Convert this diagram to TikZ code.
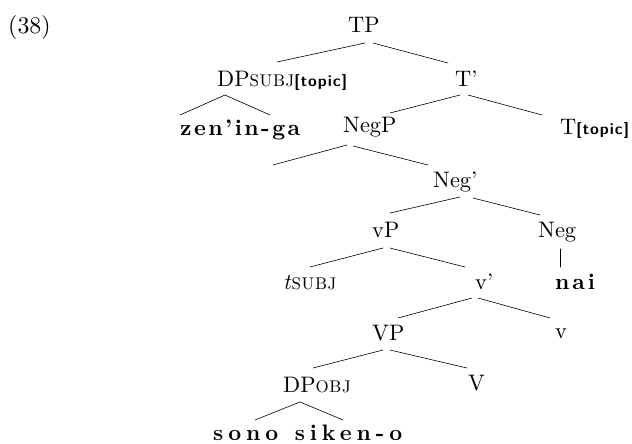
\documentclass[tikz,border=0pt]{standalone}
\usepackage{fontspec}
\setmainfont{lmroman10}[Extension=.otf, UprightFont=*-regular, BoldFont=*-bold, ItalicFont=*-italic, BoldItalicFont=*-bolditalic]
\setsansfont{lmsans10}[Extension=.otf, UprightFont=*-regular, BoldFont=*-bold]
\newcommand\mysub[1]{{\fontsize{17}{17}\selectfont\addfontfeature{LetterSpace=4}#1}}
\newcommand\topicsub{{\fontsize{16}{16}\selectfont\sffamily\bfseries\addfontfeature{LetterSpace=6}[topic]}}
\newcommand\bw[2]{{\bfseries\addfontfeature{LetterSpace=#1}#2}}
\begin{document}
\begin{tikzpicture}[x=1bp,y=-1bp,
  lab/.style={anchor=base west,inner sep=0pt,font=\fontsize{22.5}{26}\selectfont},
  br/.style={line width=0.6bp,line cap=round}]
\useasboundingbox (0,0) rectangle (632,444);
\node[lab,font=\fontsize{24}{28}\selectfont] (ex) at (8,34) {(38)};
\node[lab] (TP) at (348,33) {TP};
\node[lab] (dps) at (217,87) {DP\mysub{SUBJ}\topicsub};
\node[lab] (tbar) at (455,87) {T’};
\node[lab] (zen) at (180,136) {\bw{11}{zen’in-ga}};
\node[lab] (negp) at (343,133) {NegP};
\node[lab] (ttop) at (560,135) {T\topicsub};
\coordinate (empty) at (273,165);
\node[lab] (negbar) at (433,188) {Neg’};
\node[lab] (vp) at (372,238) {vP};
\node[lab] (neg) at (538,238) {Neg};
\node[lab] (tsubj) at (283,290) {\textit{t}\mysub{SUBJ}};
\node[lab] (vbar) at (475,290) {v’};
\node[lab] (nai) at (555,290) {\bw{13}{nai}};
\node[lab] (VP) at (372,340) {VP};
\node[lab] (vsmall) at (555,338) {v};
\node[lab] (dpobj) at (283,392) {DP\mysub{OBJ}};
\node[lab] (V) at (468,390) {V};
\node[lab] (sono) at (213,440) {\bw{22}{sono\hspace{3bp} siken-o}};

\draw[br] ([shift={(17,10)}]TP.base west) -- ([shift={(60,-25)}]dps.base west);
\draw[br] ([shift={(25,10)}]TP.base west) -- ([shift={(-7,-24)}]tbar.base west);
\draw[br] ([shift={(0,-21)}]zen.base west) -- ([shift={(8,8)}]dps.base west) -- ([shift={(90,-21)}]zen.base west);
\draw[br] ([shift={(5,8)}]tbar.base west) -- ([shift={(47,-20)}]negp.base west);
\draw[br] ([shift={(13,8)}]tbar.base west) -- ([shift={(-18,-20)}]ttop.base west);
\draw[br] ([shift={(4,12)}]negp.base west) -- (empty);
\draw[br] ([shift={(10,13)}]negp.base west) -- ([shift={(-5,-23)}]negbar.base west);
\draw[br] ([shift={(27,9)}]negbar.base west) -- ([shift={(18,-25)}]vp.base west);
\draw[br] ([shift={(40,10)}]negbar.base west) -- ([shift={(2,-23)}]neg.base west);
\draw[br] ([shift={(11,10)}]vp.base west) -- ([shift={(27,-23)}]tsubj.base west);
\draw[br] ([shift={(18,10)}]vp.base west) -- ([shift={(-10,-23)}]vbar.base west);
\draw[br] ([shift={(22,11)}]neg.base west) -- ([shift={(5,-23)}]nai.base west);
\draw[br] ([shift={(-3,8)}]vbar.base west) -- ([shift={(26,-22)}]VP.base west);
\draw[br] ([shift={(3,8)}]vbar.base west) -- ([shift={(-5,-20)}]vsmall.base west);
\draw[br] ([shift={(11,10)}]VP.base west) -- ([shift={(30,-24)}]dpobj.base west);
\draw[br] ([shift={(18,10)}]VP.base west) -- ([shift={(-1,-22)}]V.base west);
\draw[br] ([shift={(42,-20)}]sono.base west) -- ([shift={(17,10)}]dpobj.base west) -- ([shift={(130,-20)}]sono.base west);
\end{tikzpicture}
\end{document}
